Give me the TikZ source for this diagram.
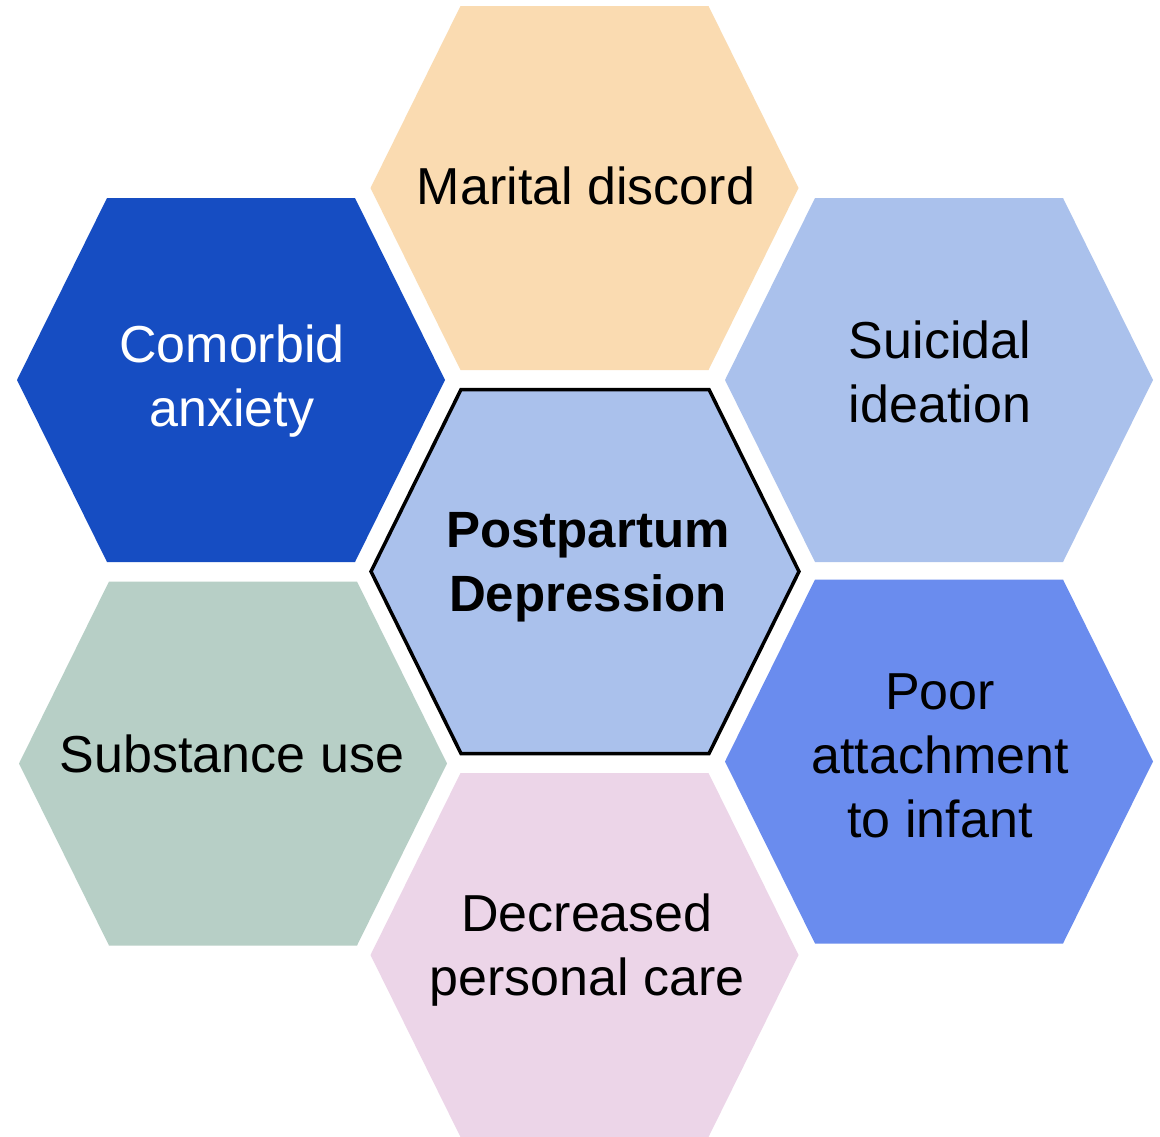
\documentclass[tikz,border=0pt]{standalone}
\usepackage{fontspec}
\setmainfont{Liberation Sans}
\usetikzlibrary{calc}
\definecolor{peach}{HTML}{FADBB1}
\definecolor{royal}{HTML}{164DC2}
\definecolor{paleblue}{HTML}{AAC1EC}
\definecolor{midblue}{HTML}{6A8CEE}
\definecolor{sage}{HTML}{B7CFC6}
\definecolor{blush}{HTML}{ECD5E8}
\tikzset{
  label text/.style={align=center, font=\fontsize{52}{64}\selectfont, inner sep=0pt},
}
% flat-topped hexagon: #1 = centre, #2 = fill options
\newcommand{\hexcell}[2]{%
  \path[#2] ($#1+(-214,0)$) -- ($#1+(-124,-182)$) -- ($#1+(124,-182)$)
    -- ($#1+(214,0)$) -- ($#1+(124,182)$) -- ($#1+(-124,182)$) -- cycle;}
\begin{document}
\begin{tikzpicture}[x=1pt,y=-1pt]
\useasboundingbox (0,0) rectangle (1160,1136);
\fill[white] (0,0) rectangle (1160,1136);

\hexcell{(584.5,188)}{fill=peach}
\hexcell{(231,380)}{fill=royal}
\hexcell{(939,380)}{fill=paleblue}
\hexcell{(233,763.5)}{fill=sage}
\hexcell{(939,761.5)}{fill=midblue}
\hexcell{(584.5,955)}{fill=blush}
\hexcell{(585,571.5)}{fill=paleblue, draw=black, line width=3.5pt, line join=miter}

\node[label text] (marital) at (586,186) {Marital discord};
\node[label text, text=white] (anxiety) at (232,381) {Comorbid\\anxiety};
\node[label text] (suicidal) at (940,372) {Suicidal\\ideation};
\node[label text, font=\fontsize{51}{64}\selectfont\bfseries] (ppd) at (588,567) {Postpartum\\Depression};
\node[label text] (substance) at (232,754) {Substance use};
\node[label text] (attach) at (940,756) {Poor\\attachment\\to infant};
\node[label text] (care) at (587,950) {Decreased\\personal care};
\end{tikzpicture}
\end{document}
